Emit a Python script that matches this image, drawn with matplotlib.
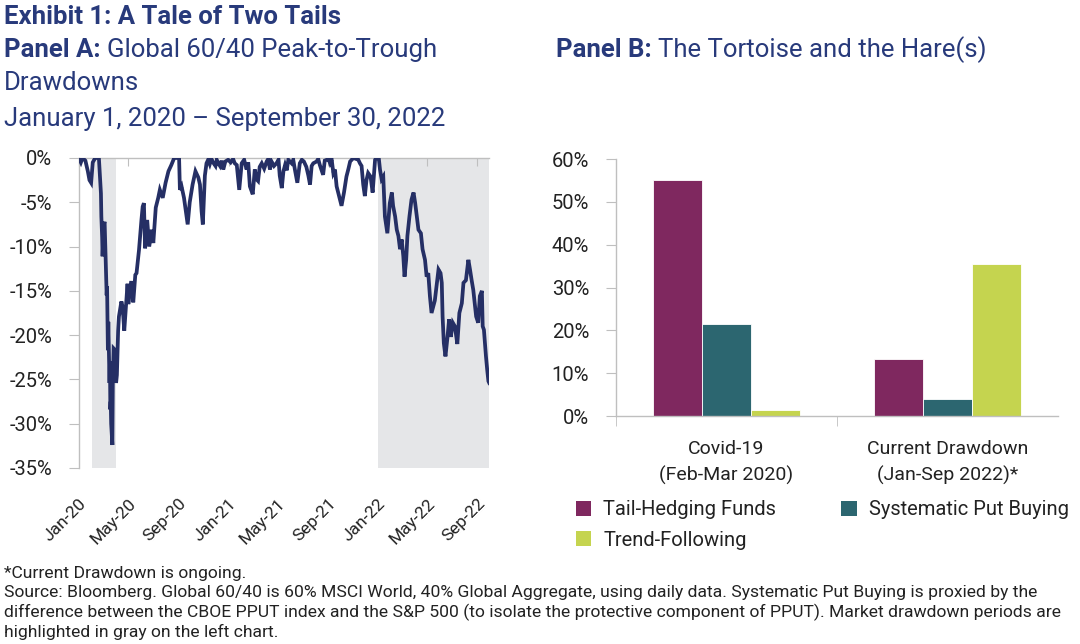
import matplotlib
matplotlib.use("Agg")
import matplotlib.pyplot as plt
from matplotlib.patches import Patch
import pandas as pd

plt.rcParams['font.family'] = ['Roboto', 'DejaVu Sans']

NAVY = '#283a7b'
LINE = '#252f65'
GRID = '#bfbfbf'

# Panel A: global 60/40 drawdown
dd_dates = [
    '2020-01-01', '2020-01-06', '2020-01-10', '2020-01-17', '2020-01-23', '2020-01-27',
    '2020-01-31', '2020-02-04', '2020-02-10', '2020-02-19', '2020-02-24', '2020-02-25',
    '2020-02-27', '2020-02-28', '2020-03-02', '2020-03-04', '2020-03-06', '2020-03-09',
    '2020-03-10', '2020-03-12', '2020-03-13', '2020-03-16', '2020-03-17', '2020-03-18',
    '2020-03-19', '2020-03-20', '2020-03-23', '2020-03-24', '2020-03-26', '2020-03-30',
    '2020-04-01', '2020-04-03', '2020-04-06', '2020-04-08', '2020-04-14', '2020-04-17',
    '2020-04-21', '2020-04-24', '2020-04-29', '2020-05-01', '2020-05-08', '2020-05-13',
    '2020-05-18', '2020-05-21', '2020-05-27', '2020-06-02', '2020-06-05', '2020-06-08',
    '2020-06-11', '2020-06-16', '2020-06-21', '2020-06-27', '2020-07-01', '2020-07-07',
    '2020-07-13', '2020-07-17', '2020-07-24', '2020-07-31', '2020-08-07', '2020-08-14',
    '2020-08-21', '2020-08-28', '2020-09-02', '2020-09-04', '2020-09-08', '2020-09-14',
    '2020-09-23', '2020-09-28', '2020-10-05', '2020-10-12', '2020-10-19', '2020-10-23',
    '2020-10-27', '2020-10-30', '2020-11-04', '2020-11-08', '2020-11-12', '2020-11-16',
    '2020-11-20', '2020-11-24', '2020-11-30', '2020-12-03', '2020-12-07', '2020-12-11',
    '2020-12-15', '2020-12-19', '2020-12-24', '2020-12-31',
    '2021-01-06', '2021-01-12', '2021-01-16', '2021-01-21', '2021-01-27', '2021-02-02',
    '2021-02-08', '2021-02-14', '2021-02-18', '2021-02-22', '2021-03-01', '2021-03-06',
    '2021-03-10', '2021-03-14', '2021-03-18', '2021-03-23', '2021-03-29', '2021-04-04',
    '2021-04-08', '2021-04-12', '2021-04-16', '2021-04-22', '2021-04-28', '2021-05-03',
    '2021-05-06', '2021-05-11', '2021-05-15', '2021-05-19', '2021-05-23', '2021-05-27',
    '2021-06-04', '2021-06-08', '2021-06-12', '2021-06-18', '2021-06-24', '2021-06-29',
    '2021-07-04', '2021-07-10', '2021-07-15', '2021-07-19', '2021-07-23', '2021-07-27',
    '2021-08-04', '2021-08-08', '2021-08-12', '2021-08-20', '2021-08-24', '2021-08-29',
    '2021-09-02', '2021-09-06', '2021-09-10', '2021-09-14', '2021-09-18', '2021-09-22',
    '2021-09-30', '2021-10-04', '2021-10-10', '2021-10-16', '2021-10-21', '2021-10-25',
    '2021-11-02', '2021-11-08', '2021-11-14', '2021-11-18', '2021-11-22', '2021-11-26',
    '2021-11-30', '2021-12-04', '2021-12-08', '2021-12-14', '2021-12-19', '2021-12-25',
    '2021-12-29',
    '2022-01-03', '2022-01-06', '2022-01-10', '2022-01-14', '2022-01-18', '2022-01-24',
    '2022-01-30', '2022-02-04', '2022-02-07', '2022-02-12', '2022-02-16', '2022-02-20',
    '2022-02-24', '2022-02-28', '2022-03-04', '2022-03-07', '2022-03-11', '2022-03-14',
    '2022-03-19', '2022-03-24', '2022-03-29', '2022-04-02', '2022-04-06', '2022-04-10',
    '2022-04-16', '2022-04-20', '2022-04-26', '2022-04-30', '2022-05-04', '2022-05-08',
    '2022-05-12', '2022-05-16', '2022-05-20', '2022-05-25', '2022-05-29', '2022-06-03',
    '2022-06-06', '2022-06-08', '2022-06-11', '2022-06-15', '2022-06-20', '2022-06-24',
    '2022-06-28', '2022-07-03', '2022-07-08', '2022-07-14', '2022-07-19', '2022-07-25',
    '2022-07-29', '2022-08-04', '2022-08-10', '2022-08-14', '2022-08-18', '2022-08-22',
    '2022-08-29', '2022-09-03', '2022-09-07', '2022-09-12', '2022-09-14', '2022-09-17',
    '2022-09-22', '2022-09-25', '2022-09-28', '2022-09-30',
]
dd_values = [
    0.0, -0.5, 0.0, -0.3, -1.5, -2.5,
    -2.8, -0.5, 0.0, 0.0, -4.0, -6.6,
    -9.0, -11.1, -7.5, -7.2, -10.5, -15.5,
    -14.5, -21.7, -18.5, -25.4, -23.0, -28.4,
    -27.5, -30.0, -32.4, -25.5, -21.5, -21.7,
    -25.4, -24.5, -19.5, -17.9, -16.2, -16.8,
    -19.5, -17.5, -14.2, -16.5, -13.9, -16.3,
    -13.2, -13.0, -10.4, -7.0, -5.5, -5.1,
    -10.2, -7.0, -10.0, -8.1, -9.6, -5.6,
    -4.5, -3.6, -4.5, -2.8, -1.5, -0.8,
    0.0, 0.0, 0.0, -3.6, -3.2, -4.5,
    -7.5, -5.0, -3.0, -1.5, -2.2, -3.0,
    -6.0, -7.5, -2.0, -0.6, -0.2, -0.7,
    -0.1, -0.5, -0.9, -0.2, -0.6, -0.9,
    -0.3, -1.3, -0.4, -0.2,
    -0.5, -0.1, -0.6, -0.8, -3.6, -0.6,
    -0.2, -1.3, -0.5, -3.2, -4.1, -1.3,
    -2.4, -2.6, -1.0, -0.6, -1.2, -0.4,
    -0.1, -1.3, -0.4, -0.9, -0.6, -0.2,
    -2.0, -3.4, -1.5, -0.8, -1.4, -0.2,
    -0.6, -0.2, -1.3, -2.8, -0.6, -0.2,
    -0.4, -1.0, -2.0, -3.0, -0.9, -0.6,
    -0.4, -0.1, -0.8, -1.9, -0.3, -0.2,
    -0.1, -0.6, -0.2, -1.7, -1.3, -3.2,
    -4.7, -5.4, -3.9, -2.1, -1.2, -0.4,
    0.0, -0.1, -0.2, -0.6, -0.9, -3.0,
    -4.3, -2.5, -1.7, -2.1, -3.9, -0.2,
    0.0,
    0.0, -1.3, -2.4, -2.1, -6.6, -8.5,
    -5.1, -3.9, -5.4, -6.6, -8.1, -8.8,
    -10.3, -9.2, -11.1, -13.4, -11.5, -8.8,
    -6.6, -4.7, -3.9, -5.1, -6.6, -8.1,
    -8.5, -10.3, -11.5, -13.4, -13.0, -15.6,
    -17.5, -16.8, -16.1, -14.1, -12.6, -13.0,
    -14.1, -17.9, -20.9, -22.4, -20.2, -18.2,
    -20.2, -18.6, -19.0, -21.0, -17.5, -16.4,
    -14.1, -13.8, -11.5, -12.6, -13.8, -14.9,
    -17.9, -18.6, -15.6, -15.0, -19.0, -19.4,
    -22.4, -23.9, -25.2, -25.4,
]
shade_periods = [('2020-02-02', '2020-03-31'), ('2022-01-01', '2022-09-30')]
tick_dates = ['2020-01-01', '2020-05-01', '2020-09-01', '2021-01-01', '2021-05-01',
              '2021-09-01', '2022-01-01', '2022-05-01', '2022-09-01']
tick_labels = ['Jan-20', 'May-20', 'Sep-20', 'Jan-21', 'May-21', 'Sep-21',
               'Jan-22', 'May-22', 'Sep-22']

# Panel B: returns during drawdowns
categories = ['Covid-19\n(Feb-Mar 2020)', 'Current Drawdown\n(Jan-Sep 2022)*']
strategies = ['Tail-Hedging Funds', 'Systematic Put Buying', 'Trend-Following']
returns = {
    'Tail-Hedging Funds': [55.0, 13.2],
    'Systematic Put Buying': [21.5, 3.9],
    'Trend-Following': [1.3, 35.6],
}
colors = ['#7f285f', '#2c6670', '#c5d44f']

fig = plt.figure(figsize=(10.8, 6.44), dpi=100)

# ---- Panel A ----
ax1 = fig.add_axes([0.073, 0.2733, 0.380, 0.4814])
x = pd.to_datetime(dd_dates)
for start, end in shade_periods:
    ax1.axvspan(pd.Timestamp(start), pd.Timestamp(end), color='#e5e6e8', lw=0, zorder=0)
ax1.plot(x, dd_values, color=LINE, lw=2.7, zorder=3, solid_joinstyle='miter')
ax1.set_xlim(pd.Timestamp('2020-01-01'), pd.Timestamp('2022-09-30'))
ax1.set_ylim(-35, 0)
ax1.set_yticks(range(-35, 1, 5))
ax1.set_yticklabels([f'{v}%' for v in range(-35, 1, 5)])
ax1.set_xticks(pd.to_datetime(tick_dates))
ax1.set_xticklabels(tick_labels, rotation=45, ha='right', rotation_mode='anchor')
ax1.tick_params(axis='x', top=True, bottom=False, labeltop=False, labelbottom=True,
                direction='in', length=6, color=GRID, pad=20, labelsize=12.5, labelcolor='#222222')
ax1.tick_params(axis='y', direction='out', length=7, color=GRID, labelsize=14.5,
                labelcolor='#222222', pad=12)
for s in ['right', 'bottom']:
    ax1.spines[s].set_visible(False)
for s in ['left', 'top']:
    ax1.spines[s].set_color(GRID)
    ax1.spines[s].set_linewidth(1)

# ---- Panel B ----
ax2 = fig.add_axes([0.570, 0.354, 0.410, 0.399])
w = 0.222
for i, name in enumerate(strategies):
    pos = [c + (i - 1) * w for c in range(len(categories))]
    ax2.bar(pos, returns[name], width=w, color=colors[i], edgecolor='white', lw=0.6,
            label=name, zorder=2)
ax2.set_xlim(-0.5, 1.5)
ax2.set_ylim(0, 60)
ax2.set_yticks(range(0, 61, 10))
ax2.set_yticklabels([f'{v}%' for v in range(0, 61, 10)])
ax2.set_xticks([0, 1])
ax2.set_xticklabels(categories, linespacing=1.55)
ax2.set_xticks([-0.5, 0.5], minor=True)
ax2.tick_params(axis='x', which='major', length=0, pad=17, labelsize=14, labelcolor='#222222')
ax2.tick_params(axis='x', which='minor', length=7, color=GRID)
ax2.tick_params(axis='y', direction='out', length=7, color=GRID, labelsize=14.5,
                labelcolor='#222222', pad=12)
for s in ['right', 'top']:
    ax2.spines[s].set_visible(False)
for s in ['left', 'bottom']:
    ax2.spines[s].set_color(GRID)
    ax2.spines[s].set_linewidth(1)

# legend fills column-wise: row 1 = TH, SPB ; row 2 = TF
order = [0, 2, 1]
handles = [Patch(facecolor=colors[i], edgecolor='none') for i in order]
fig.legend(handles, [strategies[i] for i in order], loc='upper left',
           bbox_to_anchor=(0.5165, 0.251), ncol=2, frameon=False, fontsize=14.5,
           handlelength=0.75, handleheight=0.75, handletextpad=0.6,
           columnspacing=3.25, labelspacing=0.55, labelcolor='#222222')

# ---- Titles ----
tsize = 18.5
fig.text(0.004, 0.973, 'Exhibit 1: A Tale of Two Tails', fontsize=tsize, fontweight='bold',
         color=NAVY, va='center')
ta = fig.text(0.004, 0.923, 'Panel A:', fontsize=tsize, fontweight='bold', color=NAVY, va='center')
tb = fig.text(0.515, 0.923, 'Panel B:', fontsize=tsize, fontweight='bold', color=NAVY, va='center')
fig.canvas.draw()
inv = fig.transFigure.inverted()
bba = ta.get_window_extent().transformed(inv)
bbb = tb.get_window_extent().transformed(inv)
fig.text(bba.x1 + 0.006, 0.923, 'Global 60/40 Peak-to-Trough', fontsize=tsize, color=NAVY, va='center')
fig.text(0.004, 0.871, 'Drawdowns', fontsize=tsize, color=NAVY, va='center')
fig.text(0.004, 0.815, 'January 1, 2020 \u2013 September 30, 2022', fontsize=tsize, color=NAVY,
         va='center')
fig.text(bbb.x1 + 0.006, 0.923, 'The Tortoise and the Hare(s)', fontsize=tsize, color=NAVY,
         va='center')

# ---- Footnotes ----
notes = [
    '*Current Drawdown is ongoing.',
    'Source: Bloomberg. Global 60/40 is 60% MSCI World, 40% Global Aggregate, using daily data. '
    'Systematic Put Buying is proxied by the',
    'difference between the CBOE PPUT index and the S&P 500 (to isolate the protective component '
    'of PPUT). Market drawdown periods are',
    'highlighted in gray on the left chart.',
]
for i, line in enumerate(notes):
    fig.text(0.004, 0.110 - i * 0.0305, line, fontsize=12.6, color='#222222', va='center')

fig.savefig('out.png', dpi=100)
